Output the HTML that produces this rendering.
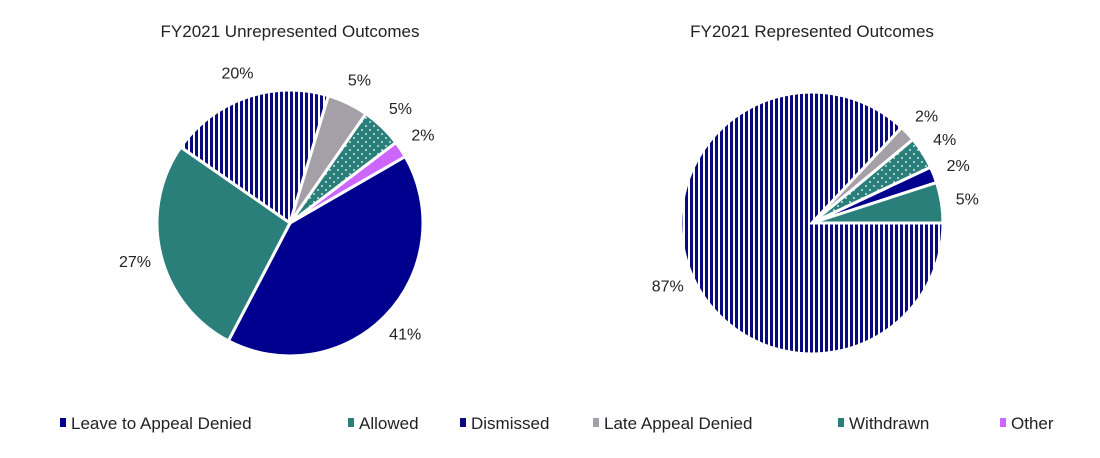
<!DOCTYPE html>
<html><head><meta charset="utf-8"><style>
body{margin:0;background:#fff;font-family:"Liberation Sans",sans-serif;}
svg text{font-family:"Liberation Sans",sans-serif;fill:#222;}
</style></head><body>
<svg width="1100" height="453" viewBox="0 0 1100 453">
<defs>
<pattern id="stripes" patternUnits="userSpaceOnUse" width="5" height="5">
<rect width="5" height="5" fill="#fff"/><rect width="3" height="5" fill="#0a0a80"/>
</pattern>
<pattern id="dots" patternUnits="userSpaceOnUse" width="8" height="8">
<rect width="8" height="8" fill="#2a7f7a"/><circle cx="2" cy="2" r="0.9" fill="#fff"/><circle cx="6" cy="6" r="0.9" fill="#fff"/>
</pattern>
</defs>
<text x="290" y="37" font-size="17" text-anchor="middle">FY2021 Unrepresented Outcomes</text>
<text x="812" y="37" font-size="17" text-anchor="middle">FY2021 Represented Outcomes</text>
<g id="pies"></g>
<g id="legend"></g>
</svg>
<script>
const categories=["Leave to Appeal Denied","Allowed","Dismissed","Late Appeal Denied","Withdrawn","Other"];
const unrepValues=[41,27,20,5,5,2];
const repValues=[2,5,87,2,4,0];
const unrepOrder=[0,1,2,3,4,5];
const repOrder=[2,3,4,0,1,5];
const fills=["#00008f","#2a7f7a","url(#stripes)","#a5a0a8","url(#dots)","#cc66ff"];
const legendColors=["#00008f","#2a7f7a","#0a0a80","#a5a0a8","#2a7f7a","#cc66ff"];
const legendX=[60,348,460,593,838,1000];
const NS="http://www.w3.org/2000/svg";
const g=document.getElementById('pies');
function pt(cx,cy,r,a){const t=a*Math.PI/180;return [cx+r*Math.sin(t),cy-r*Math.cos(t)];}
function drawPie(name,vals,order,cx,cy,r,start,lr){
  const tot=vals.reduce((a,b)=>a+b,0);let a=start;
  order.forEach(i=>{
    const v=vals[i];if(v<=0)return;
    const sw=v/tot*360,a2=a+sw;
    const p1=pt(cx,cy,r,a),p2=pt(cx,cy,r,a2);
    const p=document.createElementNS(NS,'path');
    p.setAttribute('d',`M${cx},${cy}L${p1[0]},${p1[1]}A${r},${r} 0 ${sw>180?1:0} 1 ${p2[0]},${p2[1]}Z`);
    p.setAttribute('fill',fills[i]);p.setAttribute('stroke','#fff');p.setAttribute('stroke-width','3');
    
    
    g.appendChild(p);
    const lp=pt(cx,cy,r*lr,a+sw/2);
    const t=document.createElementNS(NS,'text');
    t.setAttribute('x',lp[0]);t.setAttribute('y',lp[1]+6);t.setAttribute('font-size','16');t.setAttribute('text-anchor','middle');
    t.textContent=Math.round(v/tot*100)+'%';
    
    
    g.appendChild(t);
    a=a2;
  });
}
drawPie('unrepresented',unrepValues,unrepOrder,290,223,133,60,1.2);
drawPie('represented',repValues,repOrder,812,223,131,90,1.2);
const lg=document.getElementById('legend');
categories.forEach((c,i)=>{
  const r=document.createElementNS(NS,'rect');
  r.setAttribute('x',legendX[i]);r.setAttribute('y',418);r.setAttribute('width',6);r.setAttribute('height',9);
  r.setAttribute('fill',legendColors[i]);
  
  
  lg.appendChild(r);
  const t=document.createElementNS(NS,'text');
  t.setAttribute('x',legendX[i]+11);t.setAttribute('y',429);t.setAttribute('font-size','17');
  t.textContent=c;
  
  
  lg.appendChild(t);
});
</script>
</body></html>
